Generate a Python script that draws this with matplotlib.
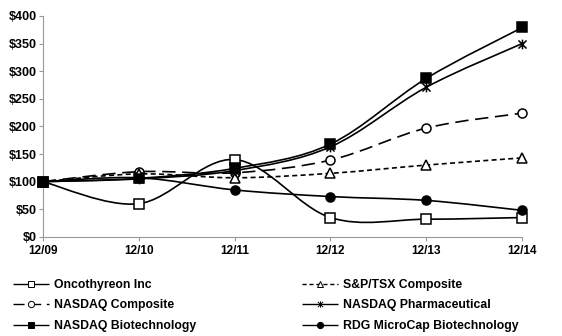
import matplotlib.pyplot as plt
import numpy as np
from matplotlib.path import Path
from matplotlib.patches import PathPatch
from matplotlib.lines import Line2D

plt.rcParams['font.family'] = ['Liberation Sans', 'DejaVu Sans']
plt.rcParams['font.weight'] = 'bold'

periods = ["12/09", "12/10", "12/11", "12/12", "12/13", "12/14"]
oncothyreon = [100, 60, 140, 35, 32, 35]
sptsx = [100, 114, 107, 115, 130, 143]
nasdaq_comp = [100, 118, 116, 139, 197, 224]
nasdaq_pharma = [100, 105, 120, 163, 271, 350]
nasdaq_biotech = [100, 106, 124, 168, 287, 379]
rdg_microcap = [100, 107, 85, 73, 66, 48]

# asterisk marker like Excel's star: an x with a vertical bar
star = Path([(-1, -1), (1, 1), (-1, 1), (1, -1), (0, -1.2), (0, 1.2)],
            [Path.MOVETO, Path.LINETO, Path.MOVETO, Path.LINETO, Path.MOVETO, Path.LINETO])

series = [
    ("Oncothyreon Inc", oncothyreon, 's', 'white', (0, ())),
    ("NASDAQ Composite", nasdaq_comp, 'o', 'white', (0, (8, 4))),
    ("NASDAQ Biotechnology", nasdaq_biotech, 's', 'black', (0, ())),
    ("S&P/TSX Composite", sptsx, '^', 'white', (0, (3, 2))),
    ("NASDAQ Pharmaceutical", nasdaq_pharma, star, 'black', (0, ())),
    ("RDG MicroCap Biotechnology", rdg_microcap, 'o', 'black', (0, ())),
]


def smooth_path(xs, ys):
    # Excel-style smoothed line: cubic bezier segments through the points
    pts = np.column_stack([xs, ys]).astype(float)
    n = len(pts)
    verts = [pts[0]]
    codes = [Path.MOVETO]
    for i in range(n - 1):
        p0 = pts[i - 1] if i > 0 else pts[i]
        p1 = pts[i]
        p2 = pts[i + 1]
        p3 = pts[i + 2] if i + 2 < n else pts[i + 1]
        c1 = p1 + (p2 - p0) / 6.0
        c2 = p2 - (p3 - p1) / 6.0
        verts += [c1, c2, p2]
        codes += [Path.CURVE4] * 3
    return Path(verts, codes)


fig = plt.figure(figsize=(5.62, 3.36), dpi=100)
ax = fig.add_axes([0.076, 0.295, 0.8534, 0.6577])

x = np.arange(len(periods))
handles = []
for name, vals, mk, fc, ls in series:
    patch = PathPatch(smooth_path(x, vals), facecolor='none', edgecolor='black',
                      lw=1.2, linestyle=ls, zorder=2)
    ax.add_patch(patch)
    ms = 7 if mk is star else 6.5
    ax.plot(x, vals, linestyle='none', marker=mk, markersize=ms,
            markerfacecolor=fc, markeredgecolor='black', markeredgewidth=1.1,
            zorder=3, clip_on=False)
    handles.append(Line2D([], [], color='black', lw=1.0, linestyle=ls, marker=mk,
                          markersize=4.5, markerfacecolor=fc, markeredgecolor='black',
                          markeredgewidth=0.7, label=name))

ax.set_xlim(0, len(periods) - 1)
ax.set_ylim(0, 400)
ax.set_xticks(x)
ax.set_xticklabels(periods, fontsize=8.5, fontweight='bold')
ax.set_yticks(np.arange(0, 401, 50))
ax.set_yticklabels(["$%d" % v for v in range(0, 401, 50)], fontsize=9, fontweight='bold')
for s in ['top', 'right']:
    ax.spines[s].set_visible(False)
for s in ['left', 'bottom']:
    ax.spines[s].set_color('#999999')
    ax.spines[s].set_linewidth(0.8)
ax.tick_params(axis='both', colors='#999999', length=3, width=0.8, labelcolor='black')
ax.tick_params(axis='x', pad=3)
ax.tick_params(axis='y', pad=1.5)

leg_kw = dict(loc='upper left', frameon=False, fontsize=8.8, handlelength=2.95,
              handletextpad=0.4, labelspacing=0.7, borderpad=0, borderaxespad=0)
fig.legend(handles=handles[:3], bbox_to_anchor=(0.023, 0.170), **leg_kw)
fig.legend(handles=handles[3:], bbox_to_anchor=(0.537, 0.170), **leg_kw)

fig.savefig("out.png", dpi=100)
